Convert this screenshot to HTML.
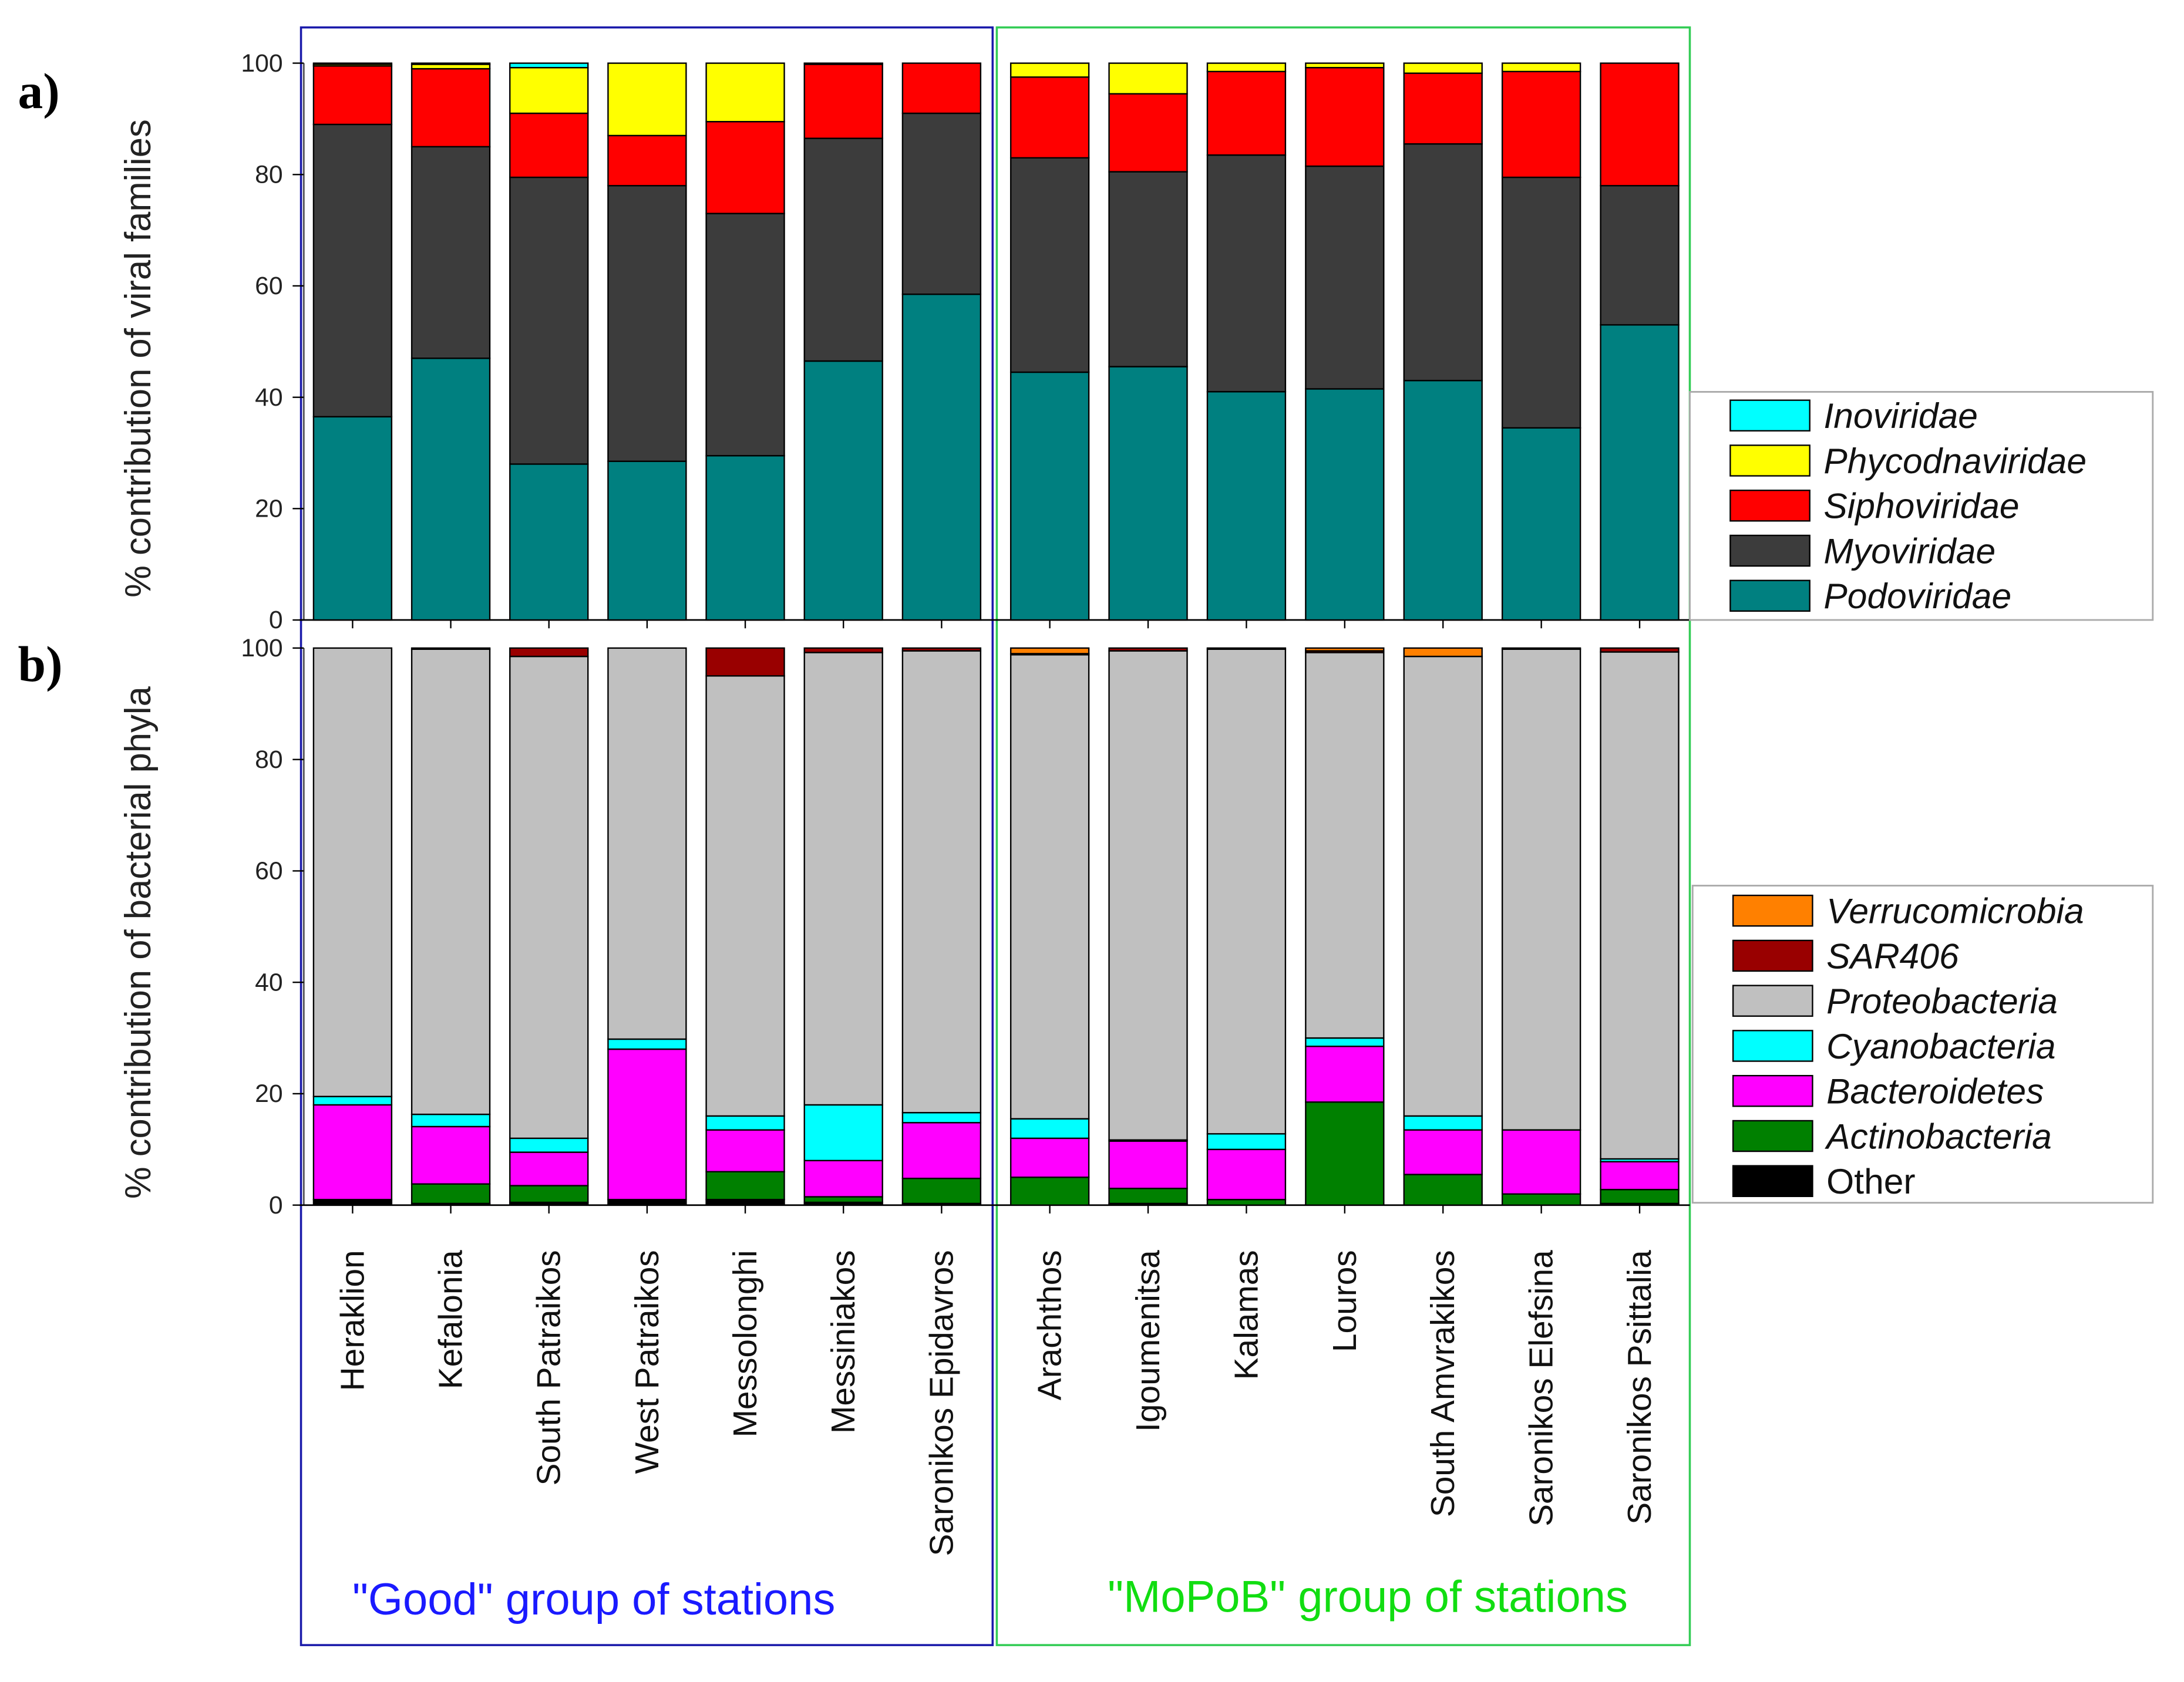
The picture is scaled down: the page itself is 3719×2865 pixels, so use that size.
<!DOCTYPE html>
<html><head><meta charset="utf-8"><style>html,body{margin:0;padding:0;background:#fff}svg{display:block}</style></head>
<body>
<svg id="fig" xmlns="http://www.w3.org/2000/svg" width="3719" height="2865" viewBox="0 0 1560 1202" preserveAspectRatio="none" font-family="Liberation Sans, sans-serif">
<rect width="1560" height="1202" fill="#fff"/>
<g transform="translate(215,19.6) scale(0.996,0.994) translate(-217,-20)">
<rect x="217" y="20" width="496" height="1163" fill="none" stroke="#1a1aaa" stroke-width="1.5"/>
<rect x="716" y="20" width="497" height="1163" fill="none" stroke="#33cc55" stroke-width="1.5"/>
<text x="14" y="78" font-family="Liberation Serif, serif" font-weight="bold" font-size="36">a)</text>
<text x="14" y="490" font-family="Liberation Serif, serif" font-weight="bold" font-size="36">b)</text>
<text transform="translate(109,258) rotate(-90)" text-anchor="middle" font-size="26" fill="#222">% contribution of viral families</text>
<text transform="translate(109,678) rotate(-90)" text-anchor="middle" font-size="26" fill="#222">% contribution of bacterial phyla</text>
<text x="427" y="1161" text-anchor="middle" font-size="32" fill="#1a1aff">"Good" group of stations</text>
<text x="982" y="1159" text-anchor="middle" font-size="32" fill="#11dd11">"MoPoB" group of stations</text>
<g id="chart"></g>
</g>
</svg>
<script>
const stations = ["Heraklion","Kefalonia","South Patraikos","West Patraikos","Messolonghi","Messiniakos","Saronikos Epidavros","Arachthos","Igoumenitsa","Kalamas","Louros","South Amvrakikos","Saronikos Elefsina","Saronikos Psittalia"];
const viralNames = ["Podoviridae","Myoviridae","Siphoviridae","Phycodnaviridae","Inoviridae"];
const podo  = [36.5,47,28,28.5,29.5,46.5,58.5,44.5,45.5,41,41.5,43,34.5,53];
const myo   = [52.5,38,51.5,49.5,43.5,40,32.5,38.5,35,42.5,40,42.5,45,25];
const sipho = [10.5,14,11.5,9,16.5,13.3,9,14.5,14,15,17.7,12.7,19,22];
const phyco = [0.3,0.8,8.2,13,10.5,0.1,0,2.5,5.5,1.5,0.8,1.8,1.5,0];
const ino   = [0.2,0.2,0.8,0,0,0.1,0,0,0,0,0,0,0,0];
const bactNames = ["Other","Actinobacteria","Bacteroidetes","Cyanobacteria","Proteobacteria","SAR406","Verrucomicrobia"];
const other  = [1,0.3,0.5,1,1,0.5,0.3,0,0.3,0,0,0,0,0.3];
const actino = [0,3.5,3,0,5,1,4.5,5,2.7,1,18.5,5.5,2,2.5];
const bactero= [17,10.3,6,27,7.5,6.5,10,7,8.5,9,10,8,11.5,5];
const cyano  = [1.5,2.2,2.5,1.8,2.5,10,1.8,3.5,0.2,2.8,1.5,2.5,0,0.5];
const proteo = [80.5,83.5,86.5,70.2,79,81.2,82.9,83.3,87.8,87,69.2,82.5,86.3,91];
const sar406 = [0,0.2,1.5,0,5,0.8,0.5,0.2,0.5,0.2,0.3,0,0.2,0.7];
const verruco= [0,0,0,0,0,0,0,1,0,0,0.5,1.5,0,0];
const yTicks = [0,20,40,60,80,100];

const NS="http://www.w3.org/2000/svg";
const g=document.getElementById('chart');
function mk(t,a){const e=document.createElementNS(NS,t);for(const k in a)e.setAttribute(k,a[k]);g.appendChild(e);return e;}
function xc(i){return i<7?254+i*70.4:754+(i-7)*70.5;}
const barW=56;
const panels=[
 {y0:446,y100:45.7,series:[podo,myo,sipho,phyco,ino],names:viralNames,colors:["#008080","#3c3c3c","#ff0000","#ffff00","#00ffff"],key:"viral"},
 {y0:866.7,y100:466.2,series:[other,actino,bactero,cyano,proteo,sar406,verruco],names:bactNames,colors:["#000000","#008000","#ff00ff","#00ffff","#c0c0c0","#990000","#ff8000"],key:"bacterial"}
];
panels.forEach(p=>{
  const ys=v=>p.y0-(p.y0-p.y100)*v/100;
  let ax=mk('line',{x1:219,x2:219,y1:p.y100,y2:p.y0,stroke:'#555','stroke-width':1.2});
  
  
  let bx=mk('line',{x1:216,x2:1213,y1:p.y0,y2:p.y0,stroke:'#000','stroke-width':1.2});
  
  
  yTicks.forEach(t=>{
    let tk=mk('line',{x1:211,x2:219,y1:ys(t),y2:ys(t),stroke:'#000'});
    
    
    let tl=mk('text',{x:204,y:ys(t)+6,'text-anchor':'end','font-size':18,fill:'#222'});
    tl.textContent=t;
    
    
  });
  stations.forEach((s,i)=>{
    let tk=mk('line',{x1:xc(i),x2:xc(i),y1:p.y0,y2:p.y0+6,stroke:'#000'});
    
    
    let cum=0;
    p.series.forEach((ser,k)=>{
      const v=ser[i]; if(v<=0){return;}
      const top=ys(cum+v), bot=ys(cum);
      let r=mk('rect',{x:xc(i)-barW/2,y:top,width:barW,height:bot-top,fill:p.colors[k],stroke:'#000','stroke-width':1});
      
      
      cum+=v;
    });
  });
});
stations.forEach((s,i)=>{
  let t=mk('text',{transform:`translate(${xc(i)+8},899) rotate(-90)`,'text-anchor':'end','font-size':24,fill:'#111'});
  t.textContent=s;
  
  
});
const legends=[
 {x:1213,y:282,w:332,h:164,y1:299,names:["Inoviridae","Phycodnaviridae","Siphoviridae","Myoviridae","Podoviridae"],colors:["#00ffff","#ffff00","#ff0000","#3c3c3c","#008080"],italic:[1,1,1,1,1],key:"viral"},
 {x:1215,y:637,w:330,h:228,y1:655,names:["Verrucomicrobia","SAR406","Proteobacteria","Cyanobacteria","Bacteroidetes","Actinobacteria","Other"],colors:["#ff8000","#990000","#c0c0c0","#00ffff","#ff00ff","#008000","#000000"],italic:[1,1,1,1,1,1,0],key:"bacterial"}
];
legends.forEach(L=>{
  let b=mk('rect',{x:L.x,y:L.y,width:L.w,height:L.h,fill:'#fff',stroke:'#aaa','stroke-width':1.2});
  
  
  L.names.forEach((n,k)=>{
    const cy=L.y1+k*32.4;
    let sw=mk('rect',{x:L.x+29,y:cy-11,width:57,height:22,fill:L.colors[k],stroke:'#000','stroke-width':1});
    
    
    let t=mk('text',{x:L.x+96,y:cy+9,'font-size':25.5,fill:'#111','font-style':L.italic[k]?'italic':'normal'});
    t.textContent=n;
    
    
  });
});
</script>
</body></html>
